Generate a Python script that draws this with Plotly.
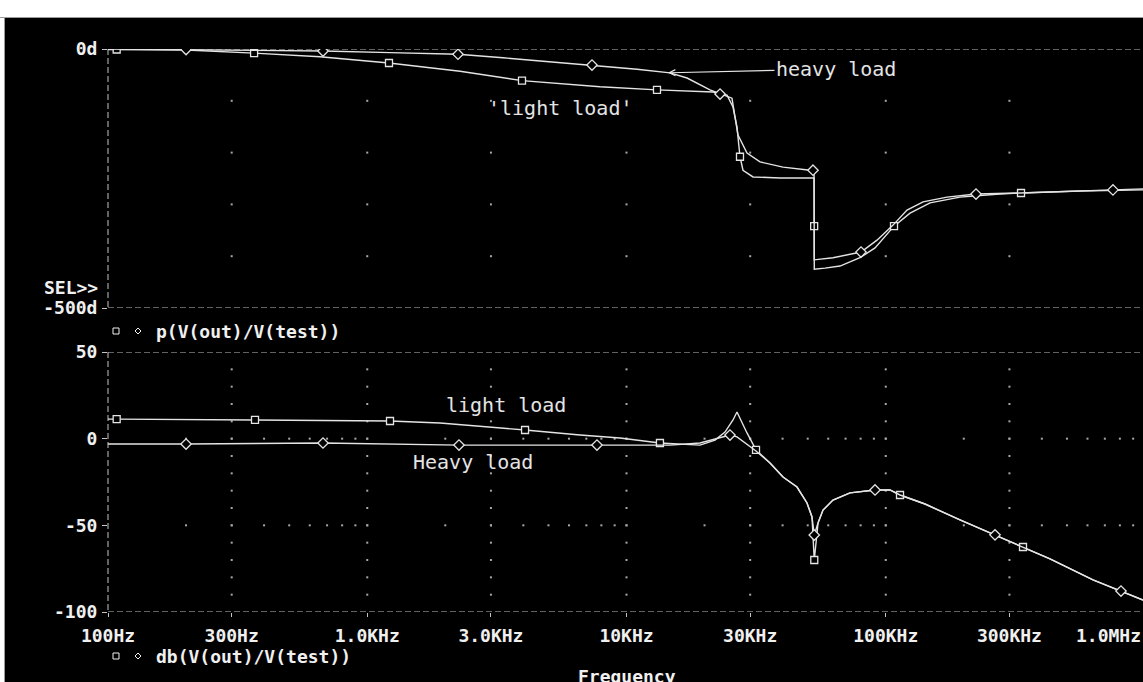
import plotly.graph_objects as go

# ---------------- phase, light load ----------------
f_ph_light = [100, 108, 200, 366, 657, 1213, 2280, 3953, 7904, 13110, 19210, 21560,
              24420, 25750, 26680, 27400, 28140, 30760, 39090, 52900, 52950, 53000,
              58310, 66610, 79560, 90910, 107600, 124100, 148200, 193400, 275900,
              332500, 561500, 982400]
ph_light = [-1, -1, -2, -8, -15, -27, -43, -61, -73, -79, -81, -83,
            -89, -112, -151, -208, -234, -247, -249, -249, -342, -425,
            -423, -419, -403, -384, -342, -317, -297, -286, -280,
            -278, -274, -272]
ph_light_marks = [1, 3, 5, 7, 9, 15, 20, 26, 31]

# ---------------- phase, heavy load ----------------
f_ph_heavy = [100, 200, 366, 675, 1224, 2239, 3339, 5206, 7360, 10980, 14720, 17120,
              20990, 22950, 25520, 26210, 26920, 29160, 32730, 40150, 52400, 52900,
              53000, 62590, 80270, 92520, 106700, 120800, 139300, 172300, 222900,
              329600, 752500, 982400]
ph_heavy = [0, -1, -2, -4, -7, -10, -17, -25, -31, -39, -46, -56,
            -79, -87, -95, -131, -166, -201, -218, -228, -234, -235,
            -407, -403, -392, -369, -340, -311, -295, -286, -280,
            -278, -272, -270]
ph_heavy_marks = [1, 3, 5, 8, 13, 20, 24, 30, 32]

# ---------------- magnitude, light load ----------------
f_db_light = [100, 108, 369, 1224, 1909, 2722, 4061, 6617, 9440, 13460, 19210, 21950,
              23990, 25750, 26680, 29160, 31590, 35770, 40150, 45470, 49690, 51940,
              53000, 54790, 57280, 62590, 72800, 90910, 103800, 113500, 141700,
              193400, 275900, 338400, 430100, 630200, 807900, 982400]
db_light = [11.3, 11.3, 10.8, 10.2, 9.0, 7.3, 5.0, 2.1, 0.4, -2.5, -3.7, -0.8,
            3.8, 10.8, 15.4, 3.3, -6.5, -14.0, -22.1, -27.9, -37.1, -45.2,
            -70.0, -48.7, -41.2, -35.4, -31.3, -29.6, -29.6, -32.5, -37.7,
            -46.9, -56.7, -62.5, -69.4, -81.5, -87.9, -93.1]
db_light_marks = [1, 2, 3, 6, 9, 16, 22, 29, 33]

# ---------------- magnitude, heavy load ----------------
f_db_heavy = [100, 200, 675, 2259, 7693, 14720, 19210, 22950, 25070, 26680, 28650,
              29950, 31590, 35770, 40150, 45470, 49690, 51940, 53000, 54790, 57280,
              62590, 72800, 90910, 103800, 113500, 141700, 193400, 263900, 338400,
              430100, 630200, 807900, 982400]
db_heavy = [-3.1, -3.1, -2.5, -3.7, -3.7, -3.7, -2.5, 0.4, 2.1, 1.0, -2.5,
            -4.8, -7.1, -14.0, -22.1, -27.9, -37.1, -45.2, -55.6, -48.7, -41.2,
            -35.4, -31.3, -29.6, -29.6, -32.5, -37.7, -46.9, -55.5, -62.5,
            -69.4, -81.5, -87.9, -93.1]
db_heavy_marks = [1, 2, 3, 4, 8, 18, 23, 28, 32]

# ---------------- axes ----------------
x_tick_vals = [100, 300, 1000, 3000, 10000, 30000, 100000, 300000]
x_tick_text = ["100Hz", "300Hz", "1.0KHz", "3.0KHz", "10KHz", "30KHz", "100KHz", "300KHz"]
ph_tick_vals = [0, -500]
ph_tick_text = ["0d", "-500d"]
db_tick_vals = [50, 0, -50, -100]
db_tick_text = ["50", "0", "-50", "-100"]
ph_grid = [-100, -200, -300, -400]
db_grid = [0, -50]
db_minor = list(range(40, -100, -10))

W, H = 1143, 682
L, R, T, B = 108, 1143, 49, 612
LINE = "#e4e4e4"
DASH = "#c4c4c4"
DOT = "#a8a8a8"
TXT = "#f0f0f0"
MONO = "DejaVu Sans Mono"


def px(x):
    return (x - L) / (R - L)


def py(y):
    return (B - y) / (B - T)


fig = go.Figure()

# sparse dotted grid
grid_top_x, grid_top_y = [], []
for fx in x_tick_vals[1:]:
    for gy in ph_grid:
        grid_top_x.append(fx)
        grid_top_y.append(gy)
fig.add_trace(go.Scatter(x=grid_top_x, y=grid_top_y, xaxis="x2", yaxis="y2", mode="markers",
                         marker=dict(symbol="square", size=2, color=DOT, line=dict(width=0)),
                         hoverinfo="skip", showlegend=False))

grid_bot_x, grid_bot_y = [], []
for fx in x_tick_vals[1:]:
    for gy in db_minor:
        grid_bot_x.append(fx)
        grid_bot_y.append(gy)
for dec in [100, 1000, 10000, 100000]:
    for m in range(1, 10):
        fx = dec * m
        if fx <= 100:
            continue
        for gy in db_grid:
            grid_bot_x.append(fx)
            grid_bot_y.append(gy)
fig.add_trace(go.Scatter(x=grid_bot_x, y=grid_bot_y, xaxis="x", yaxis="y", mode="markers",
                         marker=dict(symbol="square", size=2, color=DOT, line=dict(width=0)),
                         hoverinfo="skip", showlegend=False))


def add_curve(f, v, marks, sym, xa, ya):
    fig.add_trace(go.Scatter(x=f, y=v, xaxis=xa, yaxis=ya, mode="lines",
                             line=dict(color=LINE, width=1.4), hoverinfo="skip",
                             showlegend=False))
    fig.add_trace(go.Scatter(x=[f[i] for i in marks], y=[v[i] for i in marks],
                             xaxis=xa, yaxis=ya, mode="markers",
                             marker=dict(symbol=sym, size=7 if sym == "square" else 8,
                                         color="black", line=dict(color=LINE, width=1.3)),
                             hoverinfo="skip", showlegend=False))


add_curve(f_ph_light, ph_light, ph_light_marks, "square", "x2", "y2")
add_curve(f_ph_heavy, ph_heavy, ph_heavy_marks, "diamond", "x2", "y2")
add_curve(f_db_light, db_light, db_light_marks, "square", "x", "y")
add_curve(f_db_heavy, db_heavy, db_heavy_marks, "diamond", "x", "y")

shapes = []
dash_line = dict(color=DASH, width=1, dash="6px,3px")
# dashed frame lines of both panes
for yref, val in [("y2", 0), ("y2", -500), ("y", 50), ("y", -100)]:
    shapes.append(dict(type="line", xref="paper", yref=yref, x0=0, x1=1, y0=val, y1=val,
                       line=dash_line, layer="below"))
shapes.append(dict(type="line", xref="paper", yref="y2", x0=0, x1=0, y0=0, y1=-500,
                   line=dash_line, layer="below"))
shapes.append(dict(type="line", xref="paper", yref="y", x0=0, x1=0, y0=50, y1=-100,
                   line=dash_line, layer="below"))
# window frame: white strip on top and at the left edge
shapes.append(dict(type="rect", xref="paper", yref="paper", x0=px(-3), x1=px(1150),
                   y0=py(17.5), y1=py(-3), fillcolor="white", line=dict(color="#9a9a9a", width=1)))
shapes.append(dict(type="rect", xref="paper", yref="paper", x0=px(-3), x1=px(4.5),
                   y0=py(690), y1=py(17.5), fillcolor="white", line=dict(color="#9a9a9a", width=1)))
# trace symbols next to the pane titles
for yy in [331, 656]:
    shapes.append(dict(type="rect", xref="paper", yref="paper", xsizemode="pixel",
                       ysizemode="pixel", xanchor=px(116), yanchor=py(yy),
                       x0=-3, x1=3, y0=-3, y1=3, line=dict(color=TXT, width=1)))
    shapes.append(dict(type="path", xref="paper", yref="paper", xsizemode="pixel",
                       ysizemode="pixel", xanchor=px(138), yanchor=py(yy),
                       path="M 0 -3 L 3 0 L 0 3 L -3 0 Z", line=dict(color=TXT, width=1)))

bold = dict(family=MONO, size=18, color=TXT, weight="bold")
thin = dict(family=MONO, size=20, color=LINE)

annotations = [
    dict(text="SEL>>", x=px(100), y=py(287), xref="paper", yref="paper",
         xanchor="right", yanchor="middle", showarrow=False, font=bold),
    dict(text="p(V(out)/V(test))", x=px(154), y=py(331), xref="paper", yref="paper",
         xanchor="left", yanchor="middle", showarrow=False, font=bold),
    dict(text="db(V(out)/V(test))", x=px(154), y=py(656), xref="paper", yref="paper",
         xanchor="left", yanchor="middle", showarrow=False, font=bold),
    dict(text="1.0MHz", x=px(1143), y=py(635), xref="paper", yref="paper",
         xanchor="right", yanchor="middle", showarrow=False, font=bold),
    dict(text="Frequency", x=px(627), y=py(676), xref="paper", yref="paper",
         xanchor="center", yanchor="middle", showarrow=False, font=bold),
    dict(text="'light load'", x=px(560), y=py(108), xref="paper", yref="paper",
         xanchor="center", yanchor="middle", showarrow=False, font=thin),
    dict(text="light load", x=px(506), y=py(405), xref="paper", yref="paper",
         xanchor="center", yanchor="middle", showarrow=False, font=thin),
    dict(text="Heavy load", x=px(473), y=py(462), xref="paper", yref="paper",
         xanchor="center", yanchor="middle", showarrow=False, font=thin),
    dict(text="heavy load", x=4.16, y=-46, xref="x2", yref="y2", ax=168, ay=-4,
         showarrow=True, arrowhead=5, arrowsize=1, arrowwidth=1.2, arrowcolor=LINE,
         font=thin),
]

fig.update_layout(
    width=W, height=H,
    margin=dict(l=L, r=W - R, t=T, b=H - B, pad=0),
    paper_bgcolor="black", plot_bgcolor="black",
    showlegend=False,
    xaxis=dict(type="log", range=[2, 2 + (R - L) / 259.25], anchor="y",
               tickvals=x_tick_vals, ticktext=x_tick_text, ticks="outside", ticklen=4,
               tickcolor=DASH, tickfont=bold, showgrid=False, zeroline=False,
               showline=False, ticklabelstandoff=3),
    xaxis2=dict(type="log", matches="x", anchor="y2", showticklabels=False, ticks="",
                showgrid=False, zeroline=False, showline=False),
    yaxis=dict(domain=[0, py(352)], range=[-100, 50], tickvals=db_tick_vals,
               ticktext=db_tick_text, ticks="outside", ticklen=5, tickcolor=DASH,
               tickfont=bold, showgrid=False, zeroline=False, showline=False,
               ticklabelstandoff=1),
    yaxis2=dict(domain=[py(308), 1], range=[-500, 0], tickvals=ph_tick_vals,
                ticktext=ph_tick_text, ticks="outside", ticklen=5, tickcolor=DASH,
                tickfont=bold, showgrid=False, zeroline=False, showline=False,
                ticklabelstandoff=1),
    shapes=shapes,
    annotations=annotations,
)

fig.write_html("out.html")
